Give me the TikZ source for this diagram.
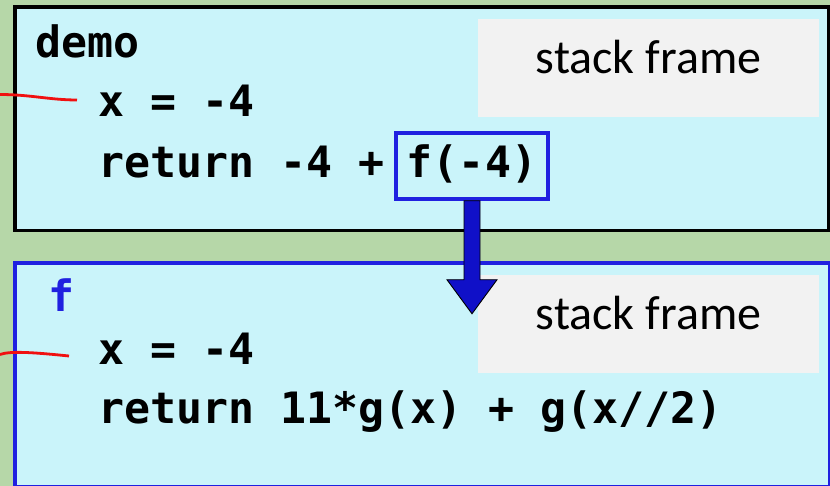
\documentclass[tikz,border=0pt]{standalone}
\usepackage{fontspec}
\setmainfont{Carlito}
\newfontfamily\codefont{DejaVu Sans Mono}
\usetikzlibrary{calc}
\definecolor{bggreen}{HTML}{B6D7A8}
\definecolor{framecyan}{HTML}{CAF4FA}
\definecolor{labelgray}{HTML}{F2F2F2}
\definecolor{frameblue}{HTML}{2020E0}
\definecolor{arrowblue}{HTML}{1010C8}
\definecolor{linkred}{HTML}{F01010}
\tikzset{
  framebox/.style={draw, fill=framecyan, line width=3.5pt, inner sep=0pt},
  graylabel/.style={fill=labelgray, inner xsep=0pt, inner ysep=0pt,
    minimum width=341pt, text height=54pt, text depth=44pt,
    font=\fontsize{48}{52}\selectfont},
  code/.style={anchor=base west, inner sep=0pt,
    font=\codefont\bfseries\fontsize{43.2}{50}\selectfont},
  callbox/.style={draw=frameblue, line width=3.5pt, inner xsep=0pt, inner ysep=0pt,
    minimum width=152pt, text height=45pt, text depth=21pt,
    font=\codefont\bfseries\fontsize{43.2}{50}\selectfont},
  redlink/.style={draw=linkred, line width=2.8pt},
}
\begin{document}
\begin{tikzpicture}[x=1pt, y=-1pt]
  \fill[bggreen] (0,0) rectangle (830,486);
  \useasboundingbox (0,0) rectangle (830,486);
  % frames
  \node[framebox, minimum width=814pt, minimum height=223.5pt] (demoframe) at (422,118.75) {};
  \node[framebox, draw=frameblue, minimum width=815pt, minimum height=223pt] (fframe) at (422.5,374.75) {};
  % stack frame labels
  \node[graylabel, anchor=north] (sf1) at (648.5,19) {stack frame};
  \node[graylabel, anchor=north] (sf2) at (648.5,275) {stack frame};
  % demo frame text
  \node[code] (demoname) at (35,58) {demo};
  \node[code] (demox) at (98,117) {x = -4};
  \node[code] (demoret) at (98,178) {return -4 +};
  \node[callbox] (call) at (472,166) {f(-4)};
  % f frame text
  \node[code, text=frameblue] (fname) at (48,312) {f};
  \node[code] (fx) at (98,364) {x = -4};
  \node[code] (fret) at (98,423) {return 11*g(x) + g(x//2)};
  % call arrow
  \draw[fill=arrowblue, draw=black, line width=0.9pt]
    ($(call.south)+(-8,0)$) -- ($(call.south)+(-8,79)$) -- ($(call.south)+(-25,79)$)
    -- ($(call.south)+(0,113)$) -- ($(call.south)+(25,79)$) -- ($(call.south)+(8,79)$)
    -- ($(call.south)+(8,0)$) -- cycle;
  % red links
  \coordinate (r1a) at (0,94.5);
  \coordinate (r1b) at (77,100);
  \coordinate (r2a) at (0,354.5);
  \coordinate (r2b) at (69,356);
  \draw[redlink] (r1a) .. controls (30,94.5) and (50,100) .. (r1b);
  \draw[redlink] (r2a) .. controls (10,351) and (30,352) .. (r2b);
\end{tikzpicture}
\end{document}
